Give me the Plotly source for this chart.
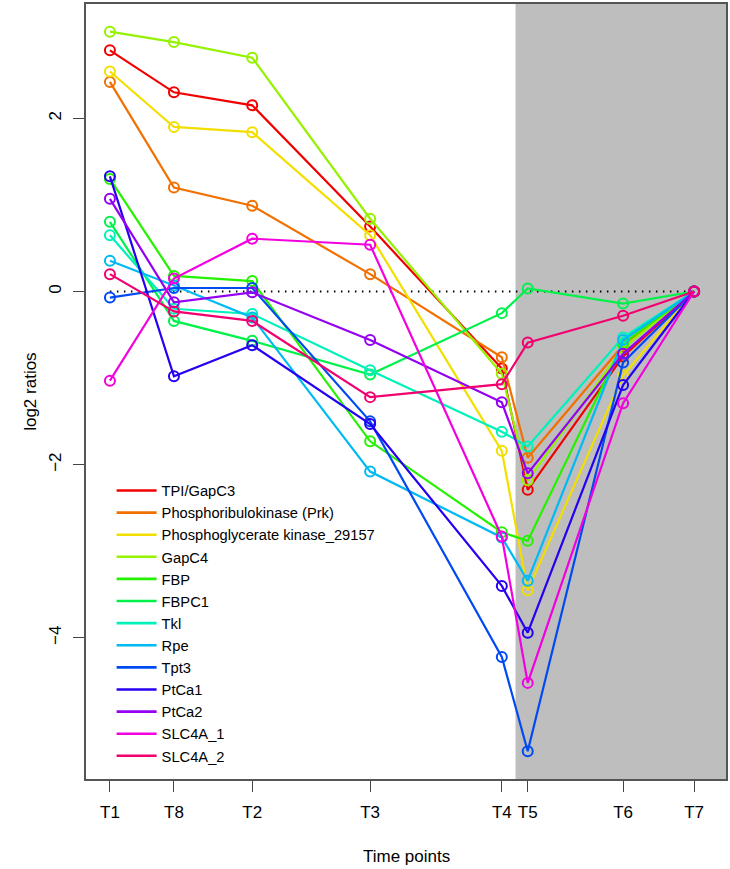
"""Log2 ratio time course of Calvin cycle / carbon genes."""

import plotly.graph_objects as go

# time points in plotting order and their positions on the x axis
time_labels = ["T1", "T8", "T2", "T3", "T4", "T5", "T6", "T7"]
time_pos = [0, 2.47, 5.49, 10.04, 15.12, 16.12, 19.8, 22.54]

genes = [
    "TPI/GapC3",
    "Phosphoribulokinase (Prk)",
    "Phosphoglycerate kinase_29157",
    "GapC4",
    "FBP",
    "FBPC1",
    "Tkl",
    "Rpe",
    "Tpt3",
    "PtCa1",
    "PtCa2",
    "SLC4A_1",
    "SLC4A_2",
]

tpi_gapc3 = [2.785, 2.30, 2.15, 0.75, -0.89, -2.29, -0.75, 0]
prk = [2.42, 1.20, 0.99, 0.20, -0.76, -1.92, -0.62, 0]
pgk_29157 = [2.54, 1.90, 1.84, 0.65, -1.84, -3.45, -0.97, 0]
gapc4 = [3.00, 2.88, 2.70, 0.84, -0.95, -2.18, -0.65, 0]
fbp = [1.30, 0.18, 0.12, -1.73, -2.78, -2.88, -0.60, 0]
fbpc1 = [0.805, -0.34, -0.57, -0.96, -0.25, 0.035, -0.14, 0]
tkl = [0.65, -0.20, -0.26, -0.91, -1.62, -1.79, -0.53, 0]
rpe = [0.355, 0.07, -0.30, -2.08, -2.84, -3.34, -0.56, 0]
tpt3 = [-0.07, 0.04, 0.04, -1.50, -4.22, -5.31, -0.82, 0]
ptca1 = [1.33, -0.98, -0.62, -1.53, -3.40, -3.94, -1.08, 0]
ptca2 = [1.07, -0.125, -0.01, -0.56, -1.28, -2.10, -0.72, 0]
slc4a_1 = [-1.03, 0.15, 0.61, 0.54, -2.83, -4.52, -1.29, 0]
slc4a_2 = [0.20, -0.23, -0.34, -1.22, -1.07, -0.59, -0.28, 0]

series = [tpi_gapc3, prk, pgk_29157, gapc4, fbp, fbpc1, tkl,
          rpe, tpt3, ptca1, ptca2, slc4a_1, slc4a_2]

colors = ["#F20000", "#F27000", "#F2DF00", "#95F200", "#25F200", "#00F24A", "#00F2BA",
          "#00BAF2", "#004AF2", "#2500F2", "#9500F2", "#F200DF", "#F20070"]

FONT = "Liberation Sans, Arial, Helvetica, sans-serif"

fig = go.Figure()

# shaded part after T4
fig.add_shape(type="rect", xref="x", yref="paper", x0=15.65, x1=24, y0=0, y1=1,
              fillcolor="#BEBEBE", line_width=0, layer="below")

# dotted zero line
fig.add_trace(go.Scatter(x=[time_pos[0], time_pos[-1]], y=[0, 0], mode="lines",
                         line=dict(color="black", width=2.2, dash="1.5px,5.5px"),
                         showlegend=False, hoverinfo="skip"))

for name, vals, col in zip(genes, series, colors):
    fig.add_trace(go.Scatter(
        x=time_pos, y=vals, name=name, mode="lines+markers", legendgroup=name,
        line=dict(color=col, width=2.2), showlegend=False,
        marker=dict(symbol="circle-open", size=10, color=col, line=dict(width=2, color=col)),
    ))

# legend shows plain lines only
for name, col in zip(genes, colors):
    fig.add_trace(go.Scatter(x=[None], y=[None], name=name, mode="lines", legendgroup=name,
                             line=dict(color=col, width=2.6)))

fig.update_layout(
    width=730, height=869,
    margin=dict(l=86, r=2, t=3, b=90),
    plot_bgcolor="white", paper_bgcolor="white",
    font=dict(family=FONT, color="black"),
    legend=dict(x=0.04, y=0.393, xanchor="left", yanchor="top", itemwidth=40,
                bgcolor="rgba(0,0,0,0)", font=dict(size=14.7, family=FONT),
                tracegroupgap=0),
    annotations=[
        dict(text="Time points", xref="paper", yref="paper", x=0.5, y=-0.1005,
             xanchor="center", yanchor="middle",
             showarrow=False, font=dict(size=17, family=FONT)),
        dict(text="log2 ratios", xref="paper", yref="paper", x=-0.087, y=0.5,
             xanchor="center", yanchor="middle",
             textangle=-90, showarrow=False, font=dict(size=17, family=FONT)),
    ],
)
fig.update_xaxes(
    range=[-0.923, 23.77], tickvals=time_pos, ticktext=time_labels,
    ticks="outside", ticklen=11, tickwidth=1.2, tickcolor="#444",
    showline=True, mirror=True, linecolor="#555", linewidth=1.5,
    showgrid=False, zeroline=False, tickfont=dict(size=17), ticklabelstandoff=6,
)
fig.update_yaxes(
    range=[-5.63, 3.32], tickvals=[-4, -2, 0, 2],
    ticktext=["\u22124", "\u22122", "0", "2"], tickangle=-90,
    ticks="outside", ticklen=11, tickwidth=1.2, tickcolor="#444",
    showline=True, mirror=True, linecolor="#555", linewidth=1.5,
    showgrid=False, zeroline=False, tickfont=dict(size=17), ticklabelstandoff=5,
)

fig.write_html("out.html", config={"displayModeBar": False},
               post_script="document.body.style.margin='0';")
